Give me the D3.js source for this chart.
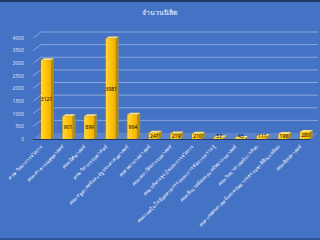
<!DOCTYPE html>
<html>
<head>
<meta charset="utf-8">
<script src="https://cdnjs.cloudflare.com/ajax/libs/d3/7.8.5/d3.min.js"></script>
<style>
    html, body { margin: 0; padding: 0; background: #4472c4; }
    svg { display: block; font-family: "Noto Sans", "DejaVu Sans", sans-serif; }
</style>
</head>
<body>
<div id="chart"></div>
<script>
var faculties = [
    "คณะวิทยาการจัดการ",
    "คณะสาธารณสุขศาสตร์",
    "คณะนิติศาสตร์",
    "คณะวิศวกรรมศาสตร์",
    "คณะรัฐศาสตร์และรัฐประศาสนศาสตร์",
    "คณะพยาบาลศาสตร์",
    "คณะสถาปัตยกรรมศาสตร์",
    "คณะบริหารธุรกิจและการจัดการ",
    "คณะเทคโนโลยีอุตสาหกรรมและการจัดการความรู้",
    "คณะสิ่งแวดล้อมและทรัพยากรศาสตร์",
    "คณะวิทยาศาสตร์การกีฬา",
    "คณะเกษตรศาสตร์และทรัพยากรธรรมชาติสิ่งแวดล้อม",
    "คณะศิลปศาสตร์"
];
var students = [3121, 901, 899, 3981, 964, 247, 219, 210, 57, 43, 111, 196, 280];
var yTicks = [0, 500, 1000, 1500, 2000, 2500, 3000, 3500, 4000];
var title = "จำนวนนิสิต";

var width = 320;
var height = 240;
var depthX = 8, depthY = -6;   // back wall offset
var barW = 10, barDX = 3, barDY = -2;

var svg = d3.select("#chart").append("svg")
    .attr("width", width)
    .attr("height", height);

var defs = svg.append("defs");
var grad = defs.append("linearGradient").attr("id", "barFront");
grad.append("stop").attr("offset", "0%").attr("stop-color", "#ffd54a");
grad.append("stop").attr("offset", "60%").attr("stop-color", "#ffc000");
grad.append("stop").attr("offset", "100%").attr("stop-color", "#eeb000");

svg.append("rect")
    .attr("width", width).attr("height", height)
    .attr("fill", "#4472c4");
svg.append("rect").attr("width", width).attr("height", 2).attr("fill", "#203864");
svg.append("rect").attr("y", height - 2).attr("width", width).attr("height", 2).attr("fill", "#2f5597");

svg.append("text")
    .attr("x", width / 2).attr("y", 15)
    .attr("text-anchor", "middle")
    .attr("fill", "#ffffff")
    .attr("font-size", 7)
    .text(title);

var y = d3.scaleLinear().domain([0, 4000]).range([139, 38]);
var x = d3.scalePoint().domain(faculties).range([46, 305]);

var wallLeft = 33, wallRight = 310;

// floor
svg.append("polygon")
    .attr("points", [[wallLeft, y(0)], [wallRight, y(0)], [wallRight + depthX, y(0) + depthY], [wallLeft + depthX, y(0) + depthY]].join(" "))
    .attr("fill", "#5b84cc");

// back wall gridlines
svg.selectAll(".grid")
    .data(yTicks.slice(1))
    .enter().append("line")
    .attr("x1", wallLeft + depthX).attr("x2", wallRight + depthX)
    .attr("y1", d => y(d) + depthY).attr("y2", d => y(d) + depthY)
    .attr("stroke", "#9db4e2")
    .attr("stroke-width", 0.8);

// side wall gridlines
svg.selectAll(".side")
    .data(yTicks.slice(1))
    .enter().append("line")
    .attr("x1", wallLeft).attr("x2", wallLeft + depthX)
    .attr("y1", d => y(d)).attr("y2", d => y(d) + depthY)
    .attr("stroke", "#9db4e2")
    .attr("stroke-width", 0.8);

// y axis labels
svg.selectAll(".ylab")
    .data(yTicks)
    .enter().append("text")
    .attr("x", 24).attr("y", d => y(d) + 1.8)
    .attr("text-anchor", "end")
    .attr("fill", "#dce4f4")
    .attr("font-size", 5)
    .text(d => d);

// bars
var bars = svg.selectAll(".bar")
    .data(students)
    .enter().append("g");

bars.append("polygon")
    .attr("points", (d, i) => {
        var cx = x(faculties[i]);
        return [[cx + barW / 2, y(d)], [cx + barW / 2 + barDX, y(d) + barDY], [cx + barW / 2 + barDX, y(0) + barDY], [cx + barW / 2, y(0)]].join(" ");
    })
    .attr("fill", "#b88a00");

bars.append("polygon")
    .attr("points", (d, i) => {
        var cx = x(faculties[i]);
        return [[cx - barW / 2, y(d)], [cx - barW / 2 + barDX, y(d) + barDY], [cx + barW / 2 + barDX, y(d) + barDY], [cx + barW / 2, y(d)]].join(" ");
    })
    .attr("fill", "#ffe07a");

bars.append("rect")
    .attr("x", (d, i) => x(faculties[i]) - barW / 2)
    .attr("y", d => y(d))
    .attr("width", barW)
    .attr("height", d => y(0) - y(d))
    .attr("fill", "url(#barFront)");

// baseline
svg.append("line")
    .attr("x1", wallLeft).attr("x2", wallRight)
    .attr("y1", y(0) + 0.5).attr("y2", y(0) + 0.5)
    .attr("stroke", "#1f3864")
    .attr("stroke-width", 1.2);

// value labels
svg.selectAll(".val")
    .data(students)
    .enter().append("text")
    .attr("x", (d, i) => x(faculties[i]) + 0.5)
    .attr("y", d => Math.min((y(d) + y(0)) / 2, y(0) - 2.5) + 1.8)
    .attr("text-anchor", "middle")
    .attr("fill", "#000000")
    .attr("font-size", 5)
    .text(d => d);

// category labels
svg.selectAll(".cat")
    .data(faculties)
    .enter().append("text")
    .attr("transform", d => "translate(" + (x(d) - 3) + "," + 147 + ") rotate(-45)")
    .attr("text-anchor", "end")
    .attr("fill", "#ffffff")
    .attr("font-size", 4.8)
    .text(d => d);
</script>
</body>
</html>
